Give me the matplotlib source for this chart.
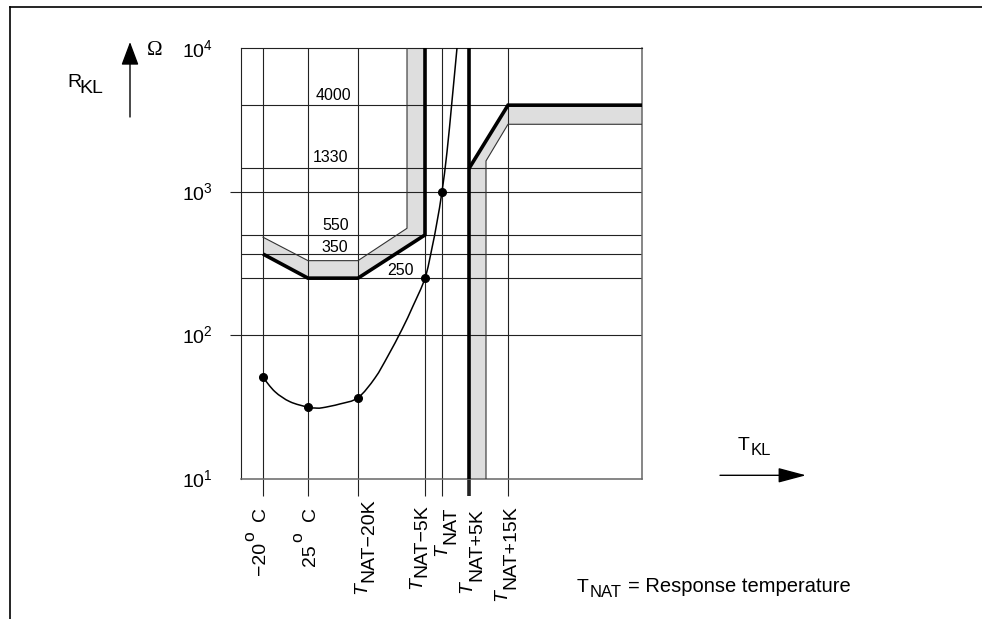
import matplotlib
matplotlib.use("Agg")
import numpy as np
import matplotlib.pyplot as plt
from matplotlib.lines import Line2D
from matplotlib.patches import FancyArrowPatch, Polygon, PathPatch
from matplotlib.path import Path
from matplotlib.ticker import NullLocator

plt.rcParams['font.family'] = ['Liberation Sans', 'DejaVu Sans']
plt.rcParams['mathtext.fontset'] = 'custom'
plt.rcParams['mathtext.rm'] = 'Liberation Sans'
plt.rcParams['mathtext.it'] = 'Liberation Sans:italic'
plt.rcParams['mathtext.bf'] = 'Liberation Sans:bold'

# ---------------- data ----------------
# x axis: schematic temperature positions (arbitrary axis units)
tick_pos = [22, 67, 117, 184, 201, 228, 267]
x_max = 401
# horizontal reference lines (Ohm)
grid_R = [100, 250, 368, 500, 1000, 1450, 4000]
grid_labels = ['4000', '1330', '550', '350', '250']

# lower (minimum) boundary, thick line
low_x = [22, 67, 117, 184, 184]
low_R = [368, 250, 250, 500, 10000]
# tolerance band edge (thin)
lowband_x = [22, 67, 117, 166, 166]
lowband_R = [482, 331, 331, 556, 10000]

# right boundary, thick line
high_x = [228, 228, 267, 401]
high_R = [10, 1450, 4000, 4000]
# tolerance band edge (thin)
highband_x = [245, 245, 267, 401]
highband_R = [10, 1637, 2945, 2945]

# PTC characteristic curve
curve_x = [22, 34, 49, 67, 74, 81, 99, 117, 134, 147, 161, 172, 184, 191, 196, 201, 206, 211, 216]
curve_R = [51, 40.5, 34.5, 31.6, 31.2, 31.3, 33.3, 36.8, 50.5, 72, 110, 160, 250, 406, 615, 1000, 1890, 4280, 10000]
dot_x = [22, 67, 117, 184, 201]
dot_R = [51, 31.6, 36.8, 250, 1000]

# ---------------- figure ----------------
W, H = 982, 619
fig = plt.figure(figsize=(W / 100, H / 100), dpi=100)


def P(x, y):
    return (x / W, 1 - y / H)


ax = fig.add_axes([241 / W, 1 - 479 / H, 401 / W, 431 / H])
ax.set_yscale('log')
ax.set_ylim(10, 1e4)
ax.set_xlim(0, x_max)
ax.yaxis.set_minor_locator(NullLocator())
ax.set_yticks([100, 1000])
ax.set_yticklabels([])
ax.tick_params(axis='y', length=8, width=0.8, direction='out', color='#222')
ax.set_xticks(tick_pos)
ax.set_xticklabels([])
ax.tick_params(axis='x', length=12.5, width=0.8, direction='out', color='#222')
ax.xaxis.get_major_ticks()[5].tick1line.set_markeredgewidth(2.6)
ax.xaxis.get_major_ticks()[5].tick1line.set_color('black')
for s in ax.spines.values():
    s.set_linewidth(0.8)
    s.set_color('#222')
ax.spines['right'].set_color('#666')
ax.spines['bottom'].set_color('#666')
ax.spines['right'].set_linewidth(1.1)
ax.spines['bottom'].set_linewidth(1.1)

for xv in tick_pos:
    ax.axvline(xv, color='#222', lw=0.8, zorder=2)
for rv in grid_R:
    ax.axhline(rv, color='#222', lw=0.8, zorder=2)

# grey tolerance bands
band1 = list(zip(low_x, low_R)) + list(zip(lowband_x, lowband_R))[::-1]
ax.add_patch(Polygon(band1, closed=True, facecolor='#dedede', edgecolor='none', zorder=1))
band2 = list(zip(high_x, high_R)) + list(zip(highband_x, highband_R))[::-1]
ax.add_patch(Polygon(band2, closed=True, facecolor='#dedede', edgecolor='none', zorder=1))

ax.plot(lowband_x, lowband_R, color='#333', lw=0.8, zorder=3)
ax.plot(highband_x, highband_R, color='#333', lw=0.8, zorder=3)
ax.plot(low_x, low_R, color='black', lw=2.6, zorder=4, solid_joinstyle='miter', solid_capstyle='butt')
ax.plot([high_x[0], high_x[0]], [10, 10000], color='black', lw=2.6, zorder=4, solid_capstyle='butt')
ax.plot(high_x[1:], high_R[1:], color='black', lw=2.6, zorder=4, solid_joinstyle='miter', solid_capstyle='butt')

# smooth rendering of the curve (Catmull-Rom as Bezier path in x/log R space)
cp = np.column_stack([np.array(curve_x, float), np.log10(curve_R)])
verts = [cp[0]]
codes = [Path.MOVETO]
n = len(cp)
for i in range(n - 1):
    p0 = cp[i - 1] if i > 0 else cp[i]
    p1 = cp[i]
    p2 = cp[i + 1]
    p3 = cp[i + 2] if i + 2 < n else cp[i + 1]
    c1 = p1 + (p2 - p0) / 6.0
    c2 = p2 - (p3 - p1) / 6.0
    verts += [c1, c2, p2]
    codes += [Path.CURVE4] * 3
verts = np.array(verts)
verts[:, 1] = 10 ** verts[:, 1]
ax.add_patch(PathPatch(Path(verts, codes), facecolor='none', edgecolor='black', lw=1.1, zorder=5))
ax.plot(dot_x, dot_R, 'o', color='black', ms=5.5, zorder=6)

# ---------------- texts ----------------
FS = 14
for val, base in [(4, 56.7), (3, 200), (2, 343.4), (1, 487)]:
    fig.text(*P(213, base), r'$10^{%d}$' % val, ha='right', va='baseline', fontsize=FS)

fig.text(*P(67, 87.3), 'R', fontsize=FS, va='baseline')
fig.text(*P(79.5, 93.3), 'KL', fontsize=FS, va='baseline')
fig.text(*P(147, 55), 'Ω', fontsize=15, va='baseline', family=['Liberation Serif', 'DejaVu Serif'])
fig.add_artist(FancyArrowPatch(P(130, 117), P(130, 42), transform=fig.transFigure,
                               arrowstyle='-|>,head_length=1.44,head_width=0.54', mutation_scale=10,
                               lw=1.0, color='black', shrinkA=0, shrinkB=0))

grid_label_pos = [(351, 100), (348, 162.3), (349, 230), (348, 252), (413.5, 275)]
for lab, (xp, yp) in zip(grid_labels, grid_label_pos):
    fig.text(*P(xp, yp), lab, ha='right', va='baseline', fontsize=11.5)

fig.text(*P(738, 450), 'T', fontsize=FS, va='baseline')
fig.text(*P(750.5, 455), 'KL', fontsize=12, va='baseline')
fig.add_artist(FancyArrowPatch(P(720, 475.3), P(806, 475.3), transform=fig.transFigure,
                               arrowstyle='-|>,head_length=1.73,head_width=0.46', mutation_scale=10,
                               lw=1.0, color='black', shrinkA=0, shrinkB=0))

fig.text(*P(577, 591.7), 'T', fontsize=FS, va='baseline')
fig.text(*P(589.5, 596.7), 'NAT', fontsize=12, va='baseline')
fig.text(*P(628, 591.7), '= Response temperature', fontsize=14.5, va='baseline')

# frame
fig.add_artist(Line2D([10 / W, 1], [1 - 7 / H, 1 - 7 / H], transform=fig.transFigure, color='black', lw=1.2))
fig.add_artist(Line2D([10 / W, 10 / W], [1 - 7 / H, 0], transform=fig.transFigure, color='black', lw=1.2))

# rotated tick labels
renderer = fig.canvas.get_renderer()


def rtext(s, xb, ys, fs=FS, style='normal'):
    return fig.text(*P(xb, ys), s, rotation=90, rotation_mode='anchor', ha='left', va='baseline',
                    fontsize=fs, style=style)


# degree labels: (text, baseline x, start y)
rtext('−20', 265.5, 575)
rtext('o', 254, 541, fs=12.5)
rtext('C', 265.5, 521)
rtext('25', 314.5, 566)
rtext('o', 302, 542.5, fs=12.5)
rtext('C', 315, 521)

tnat_labels = [('NAT−20K', 366, 373, 498.5), ('NAT−5K', 421.7, 426.7, 504),
               ('NAT', 446.7, 455, 507), ('NAT+5K', 471.7, 481.7, 508),
               ('NAT+15K', 506.7, 515, 505)]
for rest, xT, xN, top in tnat_labels:
    tmp1 = fig.text(0, 0, 'T', fontsize=FS, style='italic', rotation=90)
    tmp2 = fig.text(0, 0, rest, fontsize=FS, rotation=90)
    l1 = tmp1.get_window_extent(renderer).height
    l2 = tmp2.get_window_extent(renderer).height
    tmp1.remove(); tmp2.remove()
    start = top + l1 + l2
    rtext('T', xT, start, style='italic')
    rtext(rest, xN, start - l1)

fig.savefig('out.png', dpi=100)
